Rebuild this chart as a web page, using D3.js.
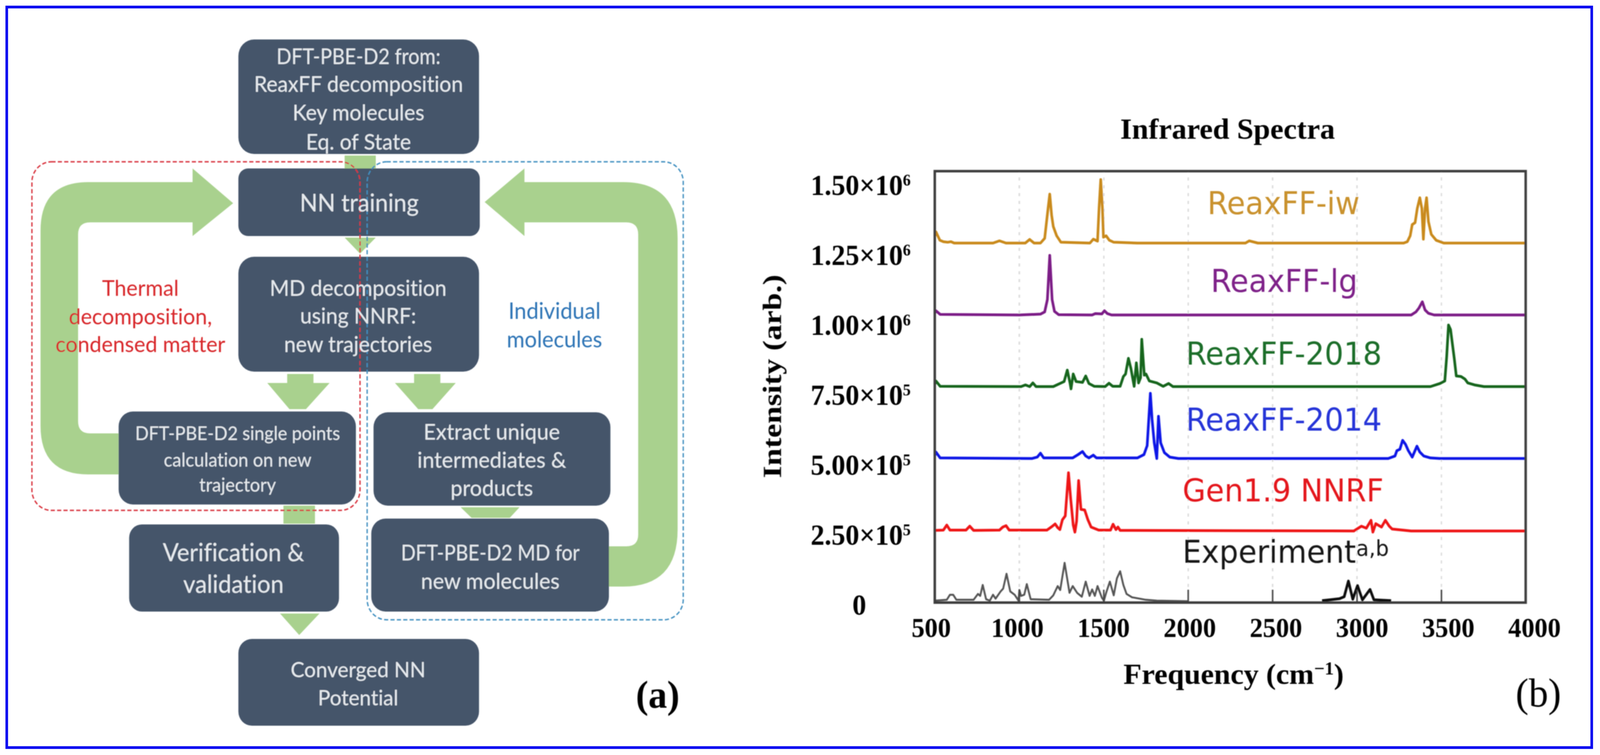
<!DOCTYPE html>
<html>
<head>
<meta charset="utf-8">
<style>
  html, body { margin: 0; padding: 0; background: #fff; width: 100%; height: 100%; overflow: hidden; }
  #site-canvas { width: 100%; height: 100%; }
  svg { display: block; width: 100%; height: 100%; font-variant-ligatures: none; }
</style>
<script src="https://cdn.jsdelivr.net/npm/d3@7"></script>
</head>
<body>
<div id="site-canvas"></div>
<script>
'use strict'

// spectra: [frequency cm-1, intensity in thousands]
var iwPoints = [[500,1310],[507,1325],[530,1295],[551,1290],[577,1288],[596,1290],[615,1285],[845,1285],[883,1293],[922,1285],[1036,1285],[1062,1298],[1088,1285],[1126,1285],[1151,1302],[1171,1409],[1181,1460],[1192,1385],[1202,1344],[1222,1311],[1247,1288],[1419,1285],[1439,1299],[1464,1292],[1473,1409],[1483,1512],[1493,1409],[1499,1306],[1515,1311],[1534,1295],[1560,1288],[1700,1285],[2340,1285],[2363,1293],[2414,1285],[3277,1285],[3299,1290],[3316,1311],[3328,1351],[3345,1358],[3358,1409],[3373,1447],[3385,1409],[3394,1299],[3404,1409],[3413,1447],[3424,1362],[3441,1316],[3470,1295],[3515,1285],[4000,1285]]
var lgPoints = [[500,1035],[507,1043],[532,1030],[1000,1028],[1126,1031],[1151,1039],[1167,1083],[1181,1241],[1195,1083],[1209,1041],[1234,1029],[1432,1028],[1451,1033],[1490,1032],[1505,1043],[1522,1033],[1547,1028],[3322,1028],[3350,1039],[3368,1053],[3388,1075],[3404,1046],[3424,1034],[3458,1028],[4000,1028]]
var r2018Points = [[500,780],[507,792],[532,773],[1011,772],[1037,778],[1062,772],[1081,785],[1100,772],[1202,772],[1241,783],[1266,790],[1285,831],[1301,785],[1307,764],[1320,817],[1337,790],[1375,787],[1394,810],[1413,783],[1445,773],[1509,772],[1532,784],[1554,773],[1598,773],[1617,808],[1630,817],[1647,873],[1662,836],[1681,773],[1694,857],[1707,785],[1719,804],[1726,941],[1741,813],[1751,817],[1771,792],[1815,785],[1853,773],[1885,783],[1911,772],[3436,772],[3492,783],[3521,792],[3532,878],[3543,992],[3555,976],[3577,873],[3589,810],[3617,808],[3640,799],[3657,785],[3697,778],[3753,772],[4000,772]]
var r2014Points = [[500,525],[507,538],[532,517],[1075,515],[1107,520],[1126,534],[1145,517],[1317,517],[1349,529],[1375,540],[1394,524],[1413,517],[1439,527],[1458,517],[1700,517],[1739,529],[1758,561],[1777,748],[1787,655],[1800,571],[1815,515],[1825,666],[1838,571],[1860,536],[1892,520],[1943,515],[3186,515],[3226,524],[3237,543],[3255,548],[3271,580],[3288,566],[3305,543],[3328,520],[3356,559],[3373,538],[3396,524],[3436,517],[3492,515],[4000,515]]
var genPoints = [[500,258],[551,259],[571,277],[590,259],[685,259],[707,273],[730,258],[883,259],[903,270],[922,275],[941,259],[1164,259],[1190,270],[1213,281],[1228,268],[1241,261],[1256,296],[1273,310],[1292,464],[1305,371],[1320,277],[1330,252],[1340,291],[1352,436],[1366,333],[1388,331],[1407,296],[1426,270],[1471,259],[1541,259],[1556,280],[1573,261],[1585,270],[1598,258],[2982,256],[3027,273],[3056,266],[3084,294],[3095,252],[3112,282],[3146,270],[3169,294],[3192,273],[3209,263],[3322,256],[4000,256]]
var expLowPoints = [[500,7],[571,10],[590,28],[609,28],[628,10],[730,10],[756,31],[769,24],[784,63],[804,12],[826,7],[845,28],[860,14],[890,40],[905,50],[925,103],[947,40],[973,28],[996,7],[1001,45],[1011,24],[1030,28],[1045,66],[1068,12],[1177,10],[1202,26],[1228,59],[1243,45],[1269,142],[1298,35],[1317,59],[1343,35],[1371,21],[1394,75],[1417,24],[1432,47],[1448,24],[1464,59],[1490,17],[1502,7],[1515,35],[1537,75],[1560,26],[1579,87],[1598,112],[1617,63],[1636,31],[1668,19],[1751,10],[1815,7],[2000,5]]
var expHighPoints = [[2794,7],[2897,14],[2925,21],[2950,77],[2976,12],[3004,61],[3033,10],[3078,47],[3101,10],[3203,7]]

var xTicks = [500,1000,1500,2000,2500,3000,3500,4000]
var yTicks = [0,250,500,750,1000,1250,1500]
var yTickMantissa = {250:'2.50',500:'5.00',750:'7.50',1000:'1.00',1250:'1.25',1500:'1.50'}
var yTickPower = {250:'5',500:'5',750:'5',1000:'6',1250:'6',1500:'6'}

var seriesNames = ['ReaxFF-iw','ReaxFF-lg','ReaxFF-2018','ReaxFF-2014','Gen1.9 NNRF']

// flowchart wording
var topLines = ['DFT-PBE-D2 from:','ReaxFF decomposition','Key molecules','Eq. of State']
var mdLines = ['MD decomposition','using NNRF:','new trajectories']
var singleLines = ['DFT-PBE-D2 single points','calculation on new','trajectory']
var extractLines = ['Extract unique','intermediates &','products']
var verifyLines = ['Verification &','validation']
var newMolLines = ['DFT-PBE-D2 MD for','new molecules']
var convergedLines = ['Converged NN','Potential']
var thermalLines = ['Thermal','decomposition,','condensed matter']
var individualLines = ['Individual','molecules']

var SERIF = '"Liberation Serif", serif'
var SANS = 'Lato, "Open Sans", sans-serif'
var PLOT_FONT = '"DejaVu Sans", sans-serif'

// viewBox in the reference's pixels, stretched to whatever the window really is
var svg = d3.select('#site-canvas').append('svg')
            .attr('viewBox', '0 0 4262 1932')
            .attr('preserveAspectRatio', 'none')

svg.append('rect').attr('width', 4262).attr('height', 1932).attr('fill', '#fff')

// the source is an upscaled bitmap, so soften each panel a little
var soft = svg.append('defs').append('filter').attr('id', 'soft')
              .attr('filterUnits', 'userSpaceOnUse')
              .attr('x', 0).attr('y', 0).attr('width', 4262).attr('height', 1932)
soft.append('feGaussianBlur').attr('stdDeviation', 1.1)

// outer blue frame
svg.append('rect')
   .attr('x', 18).attr('y', 18)
   .attr('width', 4222).attr('height', 1895)
   .attr('fill', 'none').attr('stroke', '#0a0af0').attr('stroke-width', 7)

// ---------- panel (a): flowchart ----------
var a = svg.append('g')
var GREEN = '#a9d18e'
var BOX = '#44546a'

var poly = function (pts) {
  a.append('polygon').attr('points', pts.join(' ')).attr('fill', GREEN)
}

// connectors
poly([[918,398],[1001,398],[1001,432],[918,432]])
poly([[918,608],[1001,608],[959,649]])
poly([[765,957],[835,957],[835,980],[878,980],[815,1047],[771,1047],[712,980],[765,980]])
poly([[1103,957],[1173,957],[1173,980],[1214,980],[1152,1047],[1114,1047],[1052,980],[1103,980]])
poly([[1227,1298],[1384,1298],[1358,1325],[1256,1325]])
poly([[755,1294],[839,1294],[839,1340],[755,1340]])
poly([[746,1570],[851,1570],[797,1625]])

// big return arrows
a.append('path').attr('fill', GREEN)
 .attr('d', 'M316,1214 L235,1214 Q108,1214 108,1090 L108,590 Q108,466 235,466 L513,466 L513,431 L621,520 L513,604 L513,569 L240,569 Q208,569 208,600 L208,1078 Q208,1109 240,1109 L316,1109 Z')
a.append('path').attr('fill', GREEN)
 .attr('d', 'M1620,1501 L1660,1501 Q1805,1501 1805,1355 L1805,610 Q1805,466 1660,466 L1397,466 L1397,431 L1291,517 L1397,604 L1397,569 L1668,569 Q1700,569 1700,600 L1700,1368 Q1700,1398 1668,1398 L1620,1398 Z')

var box = function (x0, y0, x1, y1, r) {
  a.append('rect')
   .attr('x', x0).attr('y', y0)
   .attr('width', x1 - x0).attr('height', y1 - y0)
   .attr('rx', r).attr('ry', r)
   .attr('fill', BOX)
}
box(635, 101, 1276, 394, 42)
box(635, 431, 1278, 604, 26)
box(635, 657, 1276, 951, 42)
box(316, 1053, 948, 1291, 38)
box(995, 1055, 1626, 1294, 38)
box(344, 1342, 903, 1565, 34)
box(989, 1327, 1622, 1565, 38)
box(635, 1635, 1276, 1857, 36)

// dashed groups sit on top of the boxes
a.append('rect')
 .attr('x', 85).attr('y', 414).attr('width', 874).attr('height', 892).attr('rx', 52).attr('ry', 52)
 .attr('fill', 'none').attr('stroke', '#d8323c').attr('stroke-width', 3.5).attr('stroke-dasharray', '11 6')
a.append('rect')
 .attr('x', 978).attr('y', 414).attr('width', 842).attr('height', 1172).attr('rx', 52).attr('ry', 52)
 .attr('fill', 'none').attr('stroke', '#3f8fc0').attr('stroke-width', 3.5).attr('stroke-dasharray', '11 6')

// firstWidth squeezes the first line, the capitals run wide in this font
var textBlock = function (lines, cx, baselines, size, color, firstWidth) {
  a.selectAll(null).data(lines).enter().append('text')
   .attr('x', cx)
   .attr('y', function (d, i) { return baselines[i] })
   .attr('text-anchor', 'middle')
   .attr('font-family', SANS)
   .attr('font-size', size)
   .attr('fill', color)
   .text(function (d) { return d })
   .filter(function (d, i) { return firstWidth && i === 0 })
   .attr('textLength', firstWidth)
   .attr('lengthAdjust', 'spacingAndGlyphs')
}
var LIGHT = '#e6eaee'
textBlock(topLines, 955, [164, 235, 308, 383], 56, LIGHT, 437)
textBlock(['NN training'], 957, [541], 62, LIGHT)
textBlock(mdLines, 954, [757, 828, 901], 56, LIGHT)
textBlock(singleLines, 633, [1126, 1194, 1258], 48, LIGHT, 546)
textBlock(extractLines, 1310, [1125, 1197, 1269], 57, LIGHT)
textBlock(verifyLines, 622, [1436, 1517], 63, LIGHT)
textBlock(newMolLines, 1306, [1434, 1507], 57, LIGHT, 476)
textBlock(convergedLines, 954, [1733, 1805], 55, LIGHT)
textBlock(thermalLines, 374, [757, 830, 901], 57, '#d8282c')
textBlock(individualLines, 1477, [816, 889], 58, '#2e75b6')

a.append('text').attr('x', 1752).attr('y', 1811)
 .attr('text-anchor', 'middle').attr('font-family', SERIF)
 .attr('font-weight', 'bold').attr('font-size', 100).text('(a)')

a.attr('filter', 'url(#soft)')

// ---------- panel (b): spectra ----------
var LEFT = 2490, RIGHT = 4064, TOP = 438, BOTTOM = 1542

var x = d3.scaleLinear().domain([500, 4000]).range([LEFT, RIGHT])
var y = d3.scaleLinear().domain([0, 1542]).range([BOTTOM, TOP])
// the printed tick labels sit slightly wider apart than the ticks themselves
var xLabel = d3.scaleLinear().domain([500, 4000]).range([2480, 4087])

var b = svg.append('g').attr('filter', 'url(#soft)')

// faint dotted grid
var grid = b.append('g')
            .attr('transform', 'translate(0,' + BOTTOM + ')')
            .call(d3.axisBottom(x).tickValues(xTicks.slice(1, -1)).tickSize(TOP - BOTTOM).tickFormat(''))
grid.select('.domain').remove()
grid.selectAll('line').attr('stroke', '#dcdcdc').attr('stroke-width', 4).attr('stroke-dasharray', '8 12')

var line = d3.line()
             .x(function (d) { return x(d[0]) })
             .y(function (d) { return y(d[1]) })

var drawSpectrum = function (points, color, width) {
  b.append('path')
   .attr('d', line(points))
   .attr('fill', 'none')
   .attr('stroke', color)
   .attr('stroke-width', width)
   .attr('stroke-linejoin', 'round')
}
drawSpectrum(iwPoints, '#c98a1e', 7)
drawSpectrum(lgPoints, '#7c1a86', 7)
drawSpectrum(r2018Points, '#12651c', 7)
drawSpectrum(r2014Points, '#0a14e6', 7)
drawSpectrum(genPoints, '#ee1218', 7)
drawSpectrum(expLowPoints, '#555', 5)
drawSpectrum(expHighPoints, '#111', 7)

// short inward ticks
var ticks = b.append('g')
             .attr('transform', 'translate(0,' + BOTTOM + ')')
             .call(d3.axisBottom(x).tickValues(xTicks.slice(1, -1)).tickSize(-33).tickFormat(''))
ticks.select('.domain').remove()
ticks.selectAll('line').attr('stroke', '#444').attr('stroke-width', 4)

// frame
b.append('rect')
 .attr('x', LEFT).attr('y', TOP)
 .attr('width', RIGHT - LEFT).attr('height', BOTTOM - TOP)
 .attr('fill', 'none').attr('stroke', '#3c3c3c').attr('stroke-width', 6.5)

// x tick labels
var xAxis = b.append('g')
             .attr('transform', 'translate(0,1630)')
             .call(d3.axisBottom(xLabel).tickValues(xTicks).tickSize(0).tickPadding(0).tickFormat(d3.format('d')))
xAxis.select('.domain').remove()
xAxis.selectAll('text')
     .attr('dy', 0).attr('y', 0)
     .attr('font-family', SERIF).attr('font-weight', 'bold')
     .attr('font-size', 70).attr('fill', '#000')

// y tick labels, written as mantissa x 10^n
var yAxis = b.append('g')
             .attr('transform', 'translate(2426,0)')
             .call(d3.axisLeft(y).tickValues(yTicks).tickSize(0).tickPadding(0).tickFormat(''))
yAxis.select('.domain').remove()
yAxis.selectAll('text')
     .attr('x', function (d) { return d === 0 ? -137 : 0 })
     .attr('dy', 30)
     .attr('text-anchor', function (d) { return d === 0 ? 'middle' : 'end' })
     .attr('font-family', SERIF).attr('font-weight', 'bold')
     .attr('font-size', 74).attr('fill', '#000')
     .each(function (d) {
       var t = d3.select(this)
       if (d === 0) { t.text('0'); return }
       t.append('tspan').text(yTickMantissa[d] + '×10')
       t.append('tspan').attr('dy', -24).attr('font-size', 42).text(yTickPower[d])
     })

// titles
b.append('text').attr('x', 3270).attr('y', 355)
 .attr('text-anchor', 'middle').attr('font-family', SERIF).attr('font-weight', 'bold')
 .attr('font-size', 74).attr('textLength', 572).attr('lengthAdjust', 'spacingAndGlyphs')
 .text('Infrared Spectra')

var xTitle = b.append('text').attr('x', 3286).attr('y', 1750)
              .attr('text-anchor', 'middle').attr('font-family', SERIF).attr('font-weight', 'bold')
              .attr('font-size', 74).attr('textLength', 587).attr('lengthAdjust', 'spacingAndGlyphs')
xTitle.append('tspan').text('Frequency (cm')
xTitle.append('tspan').attr('dy', -24).attr('font-size', 46).text('−1')
xTitle.append('tspan').attr('dy', 24).text(')')

b.append('text')
 .attr('transform', 'translate(2080,963) rotate(-90)')
 .attr('text-anchor', 'middle').attr('font-family', SERIF).attr('font-weight', 'bold')
 .attr('font-size', 70).attr('textLength', 521).attr('lengthAdjust', 'spacingAndGlyphs')
 .text('Intensity (arb.)')

b.append('text').attr('x', 4098).attr('y', 1808)
 .attr('text-anchor', 'middle').attr('font-family', SERIF).attr('font-size', 104)
 .text('(b)')

// series names inside the plot
var nameLabel = function (name, startX, baseline, color) {
  return b.append('text').attr('x', startX).attr('y', baseline)
          .attr('font-family', PLOT_FONT).attr('font-size', 80).attr('fill', color)
          .text(name)
}
nameLabel(seriesNames[0], 3216, 548, '#c9922e')
nameLabel(seriesNames[1], 3225, 747, '#7f2389')
nameLabel(seriesNames[2], 3159, 933, '#1f6e29')
nameLabel(seriesNames[3], 3159, 1102, '#2536d8')
nameLabel(seriesNames[4], 3150, 1283, '#e4181e')
var exp = nameLabel('Experiment', 3150, 1440, '#141414')
exp.append('tspan').attr('dy', -18).attr('font-size', 56).text('a,b')
</script>
</body>
</html>
